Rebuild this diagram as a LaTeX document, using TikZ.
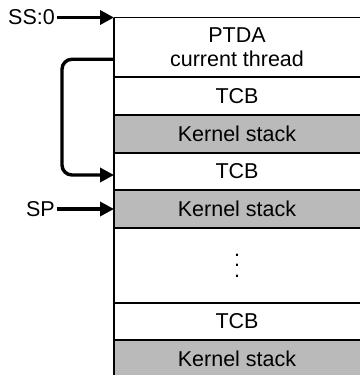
\documentclass[tikz,border=0pt]{standalone}
\usepackage{fontspec}
\setmainfont{Liberation Sans}
\usetikzlibrary{positioning,arrows.meta,calc}

\begin{document}
\begin{tikzpicture}[
  x=1pt,y=1pt,>={Triangle[length=14pt,width=14pt]},
  font=\fontsize{21.5}{23.5}\selectfont,
  slot/.style={minimum width=246pt,inner sep=0pt,outer sep=0pt,align=center,anchor=north west},
  plain/.style={slot,fill=white},
  kstack/.style={slot,fill=black!27},
  pointer/.style={->,line width=3.4pt},
  divider/.style={black,line width=1.1pt}
]
\useasboundingbox (0,0) rectangle (360,-375);
% the stack segment, top to bottom
\node[plain,minimum height=59.5pt] (ptda) at (114,-17.5) {PTDA\\current thread};
\node[plain,minimum height=38pt,below=0pt of ptda] (tcbA) {TCB};
\node[kstack,minimum height=38pt,below=0pt of tcbA] (kstackA) {Kernel stack};
\node[plain,minimum height=37pt,below=0pt of kstackA] (tcbB) {TCB};
\node[kstack,minimum height=38pt,below=0pt of tcbB] (kstackB) {Kernel stack};
\node[plain,minimum height=75pt,below=0pt of kstackB,
  font=\fontsize{21.5}{10.5}\selectfont] (dots) {.\\.\\.};
\node[plain,minimum height=37pt,below=0pt of dots] (tcbC) {TCB};
\node[kstack,minimum height=38pt,below=0pt of tcbC] (kstackC) {Kernel stack};
\foreach \row in {ptda,tcbA,kstackA,tcbB,kstackB,dots,tcbC,kstackC}
  \draw[divider] (\row.north west) -- (\row.north east);
\draw[divider] (ptda.north west) -- (kstackC.south west);
% pointers
\node[anchor=east,inner sep=2pt] (ssLabel) at (57,-17.5) {SS:0};
\node[anchor=east,inner sep=2pt] (spLabel) at (57,-209) {SP};
\draw[pointer] (ssLabel) -- (ptda.north west);
\draw[pointer] (spLabel) -- (kstackB.west);
\coordinate (loopOut) at ([yshift=-12pt]ptda.west);
\draw[pointer,rounded corners=10pt] (loopOut) -- ++(-52,0) |- ([yshift=-3.5pt]tcbB.west);
\end{tikzpicture}
\end{document}
